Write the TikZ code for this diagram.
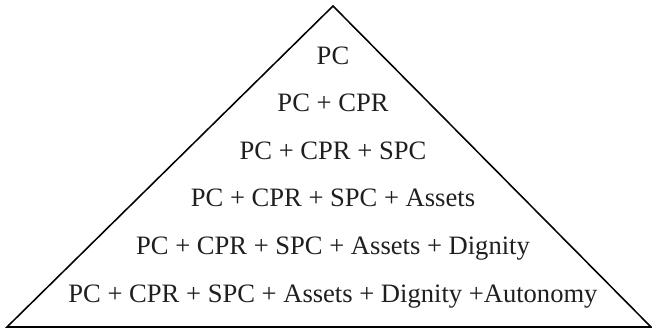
\documentclass[tikz,border=0pt]{standalone}
\usepackage{fontspec}
\setmainfont{Liberation Serif}

\begin{document}
\begin{tikzpicture}[x=0.025cm,y=-0.025cm]
        \tikzstyle{tier}=[anchor=base,inner sep=0pt,text=black!88,font=\fontsize{18.9}{21}\selectfont]
  \useasboundingbox (0,0) rectangle (652,330);
  \coordinate (top)   at (333,6);
  \coordinate (left)  at (7,327);
  \coordinate (right) at (651,327);
  \draw[line width=1.1pt,line join=miter] (top) -- (left) -- (right) -- cycle;
  \node[tier] (L_1) at (333,64)    {PC};
  \node[tier] (L_2) at (333,111.6) {PC + CPR};
  \node[tier] (L_3) at (333,159.2) {PC + CPR + SPC};
  \node[tier] (L_4) at (333,206.8) {PC + CPR + SPC + Assets};
  \node[tier] (L_5) at (333,254.4) {PC + CPR + SPC + Assets + Dignity};
  \node[tier] (L_6) at (333,302)   {PC + CPR + SPC + Assets + Dignity +Autonomy};
    \end{tikzpicture}
\end{document}
